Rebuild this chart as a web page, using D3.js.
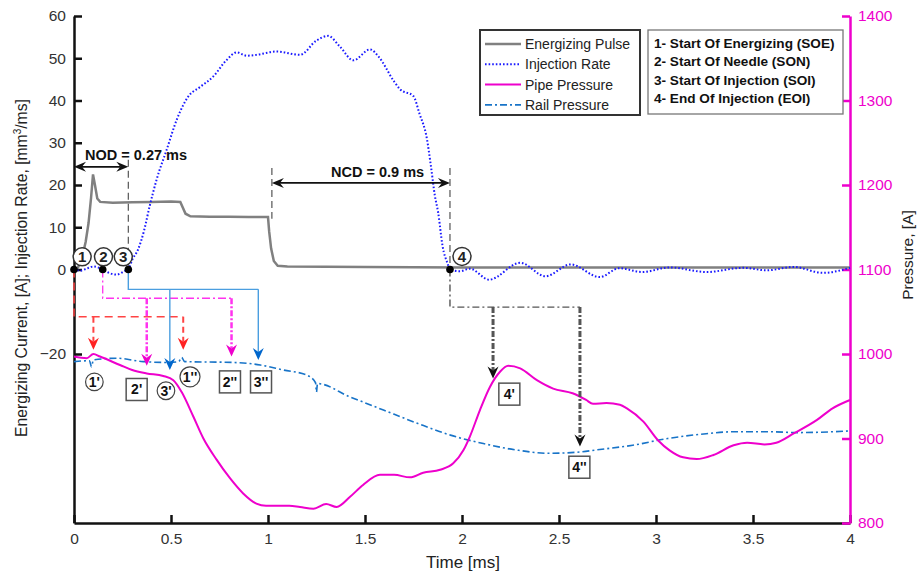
<!DOCTYPE html>
<html>
<head>
<meta charset="utf-8">
<script src="https://cdn.jsdelivr.net/npm/d3@7"></script>
<style>
  body { margin: 0; background: #fff; }
  svg { font-family: "Liberation Sans", Arial, sans-serif; }
</style>
</head>
<body>
<div id="chart"></div>
<script>
// ---- data ----
const xTicks = [0, 0.5, 1, 1.5, 2, 2.5, 3, 3.5, 4];
const leftTicks = [60, 50, 40, 30, 20, 10, 0, -20];
const rightTicks = [800, 900, 1000, 1100, 1200, 1300, 1400];

// [time ms, current A]
const pulseData = [[0,0],[0.02,0.4],[0.04,2.5],[0.06,6.5],[0.075,11],[0.088,17],[0.098,22.5],[0.108,20],[0.12,16.8],[0.135,16],[0.2,15.8],[0.3,15.9],[0.4,16],[0.5,16.1],[0.548,16],[0.575,13.2],[0.6,12.6],[0.7,12.5],[0.8,12.5],[0.9,12.4],[1.0,12.4],[1.006,9],[1.016,5],[1.03,2],[1.05,0.9],[1.1,0.7],[1.5,0.6],[2,0.5],[3,0.5],[4,0.5]];

// [time ms, injection rate mm3/ms]
const rateData = [[0,0.3],[0.03,-0.3],[0.07,0.3],[0.1,0.7],[0.148,0],[0.18,-0.8],[0.22,-1.2],[0.26,-0.4],[0.28,0],[0.3,2.3],[0.33,4.7],[0.36,9],[0.39,15],[0.426,21.3],[0.478,28.4],[0.53,35.5],[0.59,41],[0.65,43.2],[0.718,45.7],[0.787,49.6],[0.839,51.4],[0.89,50.6],[0.94,50.8],[1.045,51.6],[1.165,50.8],[1.25,54.2],[1.31,55.3],[1.37,52.8],[1.44,49.5],[1.526,52.1],[1.57,50.4],[1.65,44.5],[1.68,42.7],[1.75,41],[1.78,37],[1.82,30.7],[1.84,24.4],[1.86,17.5],[1.877,13.5],[1.9,5.5],[1.925,1.5],[1.938,0],[1.99,-0.4],[2.04,0.2],[2.14,-2.4],[2.3,1.6],[2.43,-1.6],[2.56,1.2],[2.71,-1.8],[2.81,0.3],[2.93,-0.6],[3.07,0.5],[3.26,-0.6],[3.45,0.4],[3.57,-0.2],[3.71,0.6],[3.86,-0.8],[4,0.4]];

// [time ms, pressure]
const pipeData = [[0,997],[0.065,995],[0.1,1000],[0.134,997],[0.237,987],[0.3,981],[0.375,977],[0.46,974],[0.512,969],[0.555,955],[0.615,926],[0.667,900],[0.735,875],[0.804,853],[0.872,835],[0.94,823],[0.99,820.5],[1.11,820.5],[1.165,819],[1.234,817],[1.3,822.5],[1.354,819],[1.423,831],[1.49,845],[1.577,857],[1.65,857],[1.732,854],[1.8,859.5],[1.887,863],[1.955,870.6],[2.007,886],[2.04,902],[2.093,934],[2.144,961],[2.196,979],[2.238,986],[2.3,983],[2.386,969],[2.47,959],[2.57,953.5],[2.64,945.6],[2.675,941],[2.745,942],[2.814,940],[2.85,935.7],[2.935,920],[3.01,898],[3.07,886],[3.14,877.7],[3.21,875.7],[3.296,880.5],[3.4,892],[3.47,895],[3.56,893],[3.62,895],[3.71,906],[3.83,922],[3.91,935.7],[4,945.6]];

const railData = [[0,991],[0.08,992],[0.09,985],[0.1,993],[0.22,995],[0.357,991],[0.48,990],[0.54,991],[0.555,996],[0.57,991],[0.82,990],[0.96,987],[1.08,981],[1.2,975],[1.245,966],[1.25,955],[1.255,965],[1.42,949.5],[1.595,933.7],[1.77,918],[1.94,904],[2.11,894],[2.28,886.4],[2.45,882.5],[2.59,883.7],[2.71,887],[2.88,892],[3.06,900],[3.23,905],[3.4,908],[3.57,908],[3.74,907],[4,909]];

// event markers: [label, time, current]
const eventPoints = [["1", 0, 0], ["2", 0.148, 0], ["3", 0.28, 0], ["4", 1.938, 0]];
const legendItems = ["Energizing Pulse", "Injection Rate", "Pipe Pressure", "Rail Pressure"];
const eventLegend = ["1- Start Of Energizing (SOE)", "2- Start Of Needle (SON)", "3- Start Of Injection (SOI)", "4- End Of Injection (EOI)"];

// ---- layout ----
const W = 919, H = 575;
const x = d3.scaleLinear().domain([0, 4]).range([74, 850]);
const yL = d3.scaleLinear().domain([-60, 60]).range([523, 16]);
const yR = d3.scaleLinear().domain([800, 1400]).range([523, 16]);

const MAG = "#ee00cc", RAIL = "#1874c8", RATE = "#1a1aff", GRAY = "#808080";

const svg = d3.select("#chart").append("svg").attr("width", W).attr("height", H);

// axes
const axL = svg.append("g").attr("transform", `translate(${x(0)},0)`)
    .call(d3.axisLeft(yL).tickValues(leftTicks).tickSizeInner(-8).tickSizeOuter(0).tickPadding(8).tickFormat(d3.format("~g")));
const axB = svg.append("g").attr("transform", `translate(0,${yL(-60)})`)
    .call(d3.axisBottom(x).tickValues(xTicks).tickSizeInner(-8).tickSizeOuter(0).tickPadding(10).tickFormat(d3.format("~g")));
const axR = svg.append("g").attr("transform", `translate(${x(4)},0)`)
    .call(d3.axisRight(yR).tickValues(rightTicks).tickSizeInner(-8).tickSizeOuter(0).tickPadding(8).tickFormat(d3.format("~g")));

[axL, axB].forEach(a => {
  a.select(".domain").attr("stroke", "#111").attr("stroke-width", 2.5);
  a.selectAll(".tick line").attr("stroke", "#111").attr("stroke-width", 2.5);
  a.selectAll("text").attr("fill", "#333").style("font-size", "15.5px");
});
axR.select(".domain").attr("stroke", MAG).attr("stroke-width", 2.5);
axR.selectAll(".tick line").attr("stroke", MAG).attr("stroke-width", 2.5);
axR.selectAll("text").attr("fill", MAG).style("font-size", "15.5px");

// axis titles
svg.append("text").attr("x", 463).attr("y", 568).attr("text-anchor", "middle")
  .style("font-size", "17px").attr("fill", "#222").text("Time [ms]");

const lt = svg.append("text").attr("transform", "translate(27,268) rotate(-90)")
  .attr("text-anchor", "middle").style("font-size", "15.7px").attr("fill", "#222");
lt.append("tspan").text("Energizing Current, [A]; Injection Rate, [mm");
lt.append("tspan").attr("dy", -6).style("font-size", "10px").text("3");
lt.append("tspan").attr("dy", 6).text("/ms]");

svg.append("text").attr("transform", "translate(913,255) rotate(-90)")
  .attr("text-anchor", "middle").style("font-size", "15.5px").attr("fill", "#222").text("Pressure, [A]");

// series
const lineL = d3.line().x(d => x(d[0])).y(d => yL(d[1]));
const lineLs = d3.line().x(d => x(d[0])).y(d => yL(d[1])).curve(d3.curveMonotoneX);
const lineR = d3.line().x(d => x(d[0])).y(d => yR(d[1])).curve(d3.curveMonotoneX);

svg.append("path").datum(railData).attr("d", lineR).attr("fill", "none")
  .attr("stroke", RAIL).attr("stroke-width", 1.6).attr("stroke-dasharray", "7,3,2,3");
svg.append("path").datum(pipeData).attr("d", lineR).attr("fill", "none")
  .attr("stroke", MAG).attr("stroke-width", 2);
svg.append("path").datum(pulseData).attr("d", lineL).attr("fill", "none")
  .attr("stroke", GRAY).attr("stroke-width", 2.5);
svg.append("path").datum(rateData).attr("d", lineLs).attr("fill", "none")
  .attr("stroke", RATE).attr("stroke-width", 2).attr("stroke-dasharray", "1.6,2");

// ---- annotation helpers ----
function headDown(px, py, color) {
  svg.append("path").attr("d", `M${px},${py} L${px - 5.5},${py - 12} L${px},${py - 8} L${px + 5.5},${py - 12} Z`)
    .attr("fill", color);
}
function headH(px, py, dir, color) {
  svg.append("path").attr("d", `M${px},${py} L${px - dir * 12},${py - 5} L${px - dir * 8},${py} L${px - dir * 12},${py + 5} Z`)
    .attr("fill", color);
}
function seg(pts, color, w, dash) {
  svg.append("path").attr("d", d3.line()(pts)).attr("fill", "none")
    .attr("stroke", color).attr("stroke-width", w).attr("stroke-dasharray", dash || null);
}
// event branch: from event point down to level, across to end, with drops
function branch(t0, level, t1, drops, c, w, dash, dropW, dropDash, headC) {
  seg([[x(t0), yL(0)], [x(t0), yL(level)], [x(t1), yL(level)]], c, w, dash);
  drops.forEach(([t, v]) => {
    seg([[x(t), yL(level)], [x(t), yL(v) - 8]], c, dropW, dropDash);
    headDown(x(t), yL(v), headC);
  });
}

// NOD / NCD
seg([[x(0.28), yL(26)], [x(0.28), yL(0)]], "#555", 1.2, "7,4");
seg([[x(0) + 8, yL(24.3)], [x(0.28) - 8, yL(24.3)]], "#111", 1.8);
headH(x(0), yL(24.3), -1, "#111");
headH(x(0.28), yL(24.3), 1, "#111");
svg.append("text").attr("x", x(0.057)).attr("y", yL(25.8)).style("font-size", "14.5px")
  .style("font-weight", "bold").attr("fill", "#111").text("NOD = 0.27 ms");

seg([[x(1.02), yL(24)], [x(1.02), yL(12)]], "#555", 1.2, "7,4");
seg([[x(1.938), yL(24)], [x(1.938), yL(0)]], "#555", 1.2, "7,4");
seg([[x(1.02) + 8, yL(20.5)], [x(1.938) - 8, yL(20.5)]], "#111", 1.8);
headH(x(1.02), yL(20.5), -1, "#111");
headH(x(1.938), yL(20.5), 1, "#111");
svg.append("text").attr("x", x(1.565)).attr("y", yL(21.9)).attr("text-anchor", "middle")
  .style("font-size", "14.5px").style("font-weight", "bold").attr("fill", "#111").text("NCD = 0.9 ms");

// branches
branch(0, -11.2, 0.563, [[0.1, -19], [0.563, -19]], "#ff4444", 1.5, "8,5", 2, "6,4", "#ff2222");
branch(0.148, -6.8, 0.812, [[0.375, -22.8], [0.812, -20.6]], "#ff33ee", 1.3, "8,3,2,3", 2.5, "6,2,2,2", "#ee00cc");
branch(0.28, -4.7, 0.95, [[0.494, -23.8], [0.95, -21.4]], "#4a9ee0", 1.4, null, 1.4, null, "#0066cc");
branch(1.938, -8.9, 2.608, [[2.16, -25.8], [2.608, -41.9]], "#555", 1.4, "7,3,2,3", 3, "6,2,2,2", "#111");

// event dots and circled numbers
const circNum = [[0.042, 3.0], [0.152, 3.0], [0.254, 3.0], [2.0, 3.1]];
eventPoints.forEach((e, i) => {
  svg.append("circle").attr("cx", x(e[1])).attr("cy", yL(e[2])).attr("r", 3.8).attr("fill", "#000");
  const [ct, cv] = circNum[i];
  svg.append("circle").attr("cx", x(ct)).attr("cy", yL(cv)).attr("r", 9)
    .attr("fill", "#fff").attr("stroke", "#333").attr("stroke-width", 1.5);
  svg.append("text").attr("x", x(ct)).attr("y", yL(cv) + 5.5).attr("text-anchor", "middle")
    .style("font-size", "15px").style("font-weight", "bold").attr("fill", "#222").text(e[0]);
});

// prime labels: [text, t, v, shape]
const primeLabels = [["1'", 0.105, -26.6, "c"], ["2'", 0.323, -28.4, "b"], ["3'", 0.474, -28.7, "c"],
  ["1''", 0.598, -25.4, "c"], ["2''", 0.804, -26.6, "b"], ["3''", 0.964, -26.6, "b"],
  ["4'", 2.244, -29.5, "b"], ["4''", 2.605, -46.8, "b"]];
primeLabels.forEach(([txt, t, v, s]) => {
  const cx = x(t), cy = yL(v);
  if (s === "c") {
    svg.append("circle").attr("cx", cx).attr("cy", cy).attr("r", txt.length > 2 ? 10 : 8.8)
      .attr("fill", "#fff").attr("stroke", "#444").attr("stroke-width", 1.2);
  } else {
    svg.append("rect").attr("x", cx - 10.5).attr("y", cy - 11).attr("width", 21).attr("height", 22)
      .attr("fill", "#fff").attr("stroke", "#555").attr("stroke-width", 1.5);
  }
  svg.append("text").attr("x", cx).attr("y", cy + 5).attr("text-anchor", "middle")
    .style("font-size", "14px").style("font-weight", "bold").attr("fill", "#111").text(txt);
});

// ---- legends ----
const lg = svg.append("g");
lg.append("rect").attr("x", 480).attr("y", 30).attr("width", 160).attr("height", 85)
  .attr("fill", "#fff").attr("stroke", "#333").attr("stroke-width", 2);
const legStyle = [
  { c: GRAY, w: 2.5, d: null },
  { c: RATE, w: 2, d: "1.6,2" },
  { c: MAG, w: 2, d: null },
  { c: RAIL, w: 1.6, d: "7,3,2,3" }
];
legendItems.forEach((name, i) => {
  const yy = 44 + i * 20.3;
  seg([[485, yy], [521, yy]], legStyle[i].c, legStyle[i].w, legStyle[i].d);
  lg.append("text").attr("x", 525).attr("y", yy + 5).style("font-size", "14px").attr("fill", "#222").text(name);
});

const lg2 = svg.append("g");
lg2.append("rect").attr("x", 648).attr("y", 30).attr("width", 195).attr("height", 84)
  .attr("fill", "#fff").attr("stroke", "#777").attr("stroke-width", 1.3);
eventLegend.forEach((s, i) => {
  lg2.append("text").attr("x", 654).attr("y", 48 + i * 18.3).style("font-size", "13.6px")
    .style("font-weight", "bold").attr("fill", "#111").text(s);
});
</script>
</body>
</html>
